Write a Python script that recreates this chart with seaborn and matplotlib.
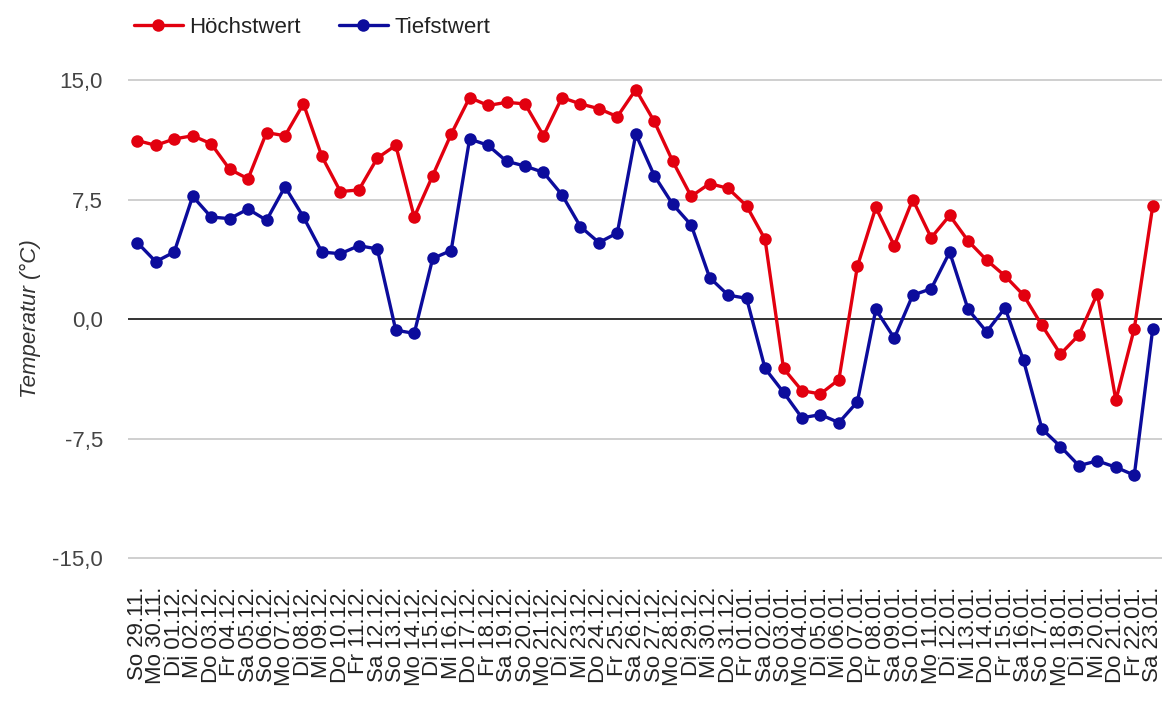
import pandas as pd
import matplotlib
matplotlib.use('Agg')
import matplotlib.pyplot as plt
import seaborn as sns

# Daily max / min temperatures (°C), 29.11. - 23.01.
labels = [
    'So 29.11.', 'Mo 30.11.',
    'Di 01.12.', 'Mi 02.12.', 'Do 03.12.', 'Fr 04.12.', 'Sa 05.12.', 'So 06.12.', 'Mo 07.12.',
    'Di 08.12.', 'Mi 09.12.', 'Do 10.12.', 'Fr 11.12.', 'Sa 12.12.', 'So 13.12.', 'Mo 14.12.',
    'Di 15.12.', 'Mi 16.12.', 'Do 17.12.', 'Fr 18.12.', 'Sa 19.12.', 'So 20.12.', 'Mo 21.12.',
    'Di 22.12.', 'Mi 23.12.', 'Do 24.12.', 'Fr 25.12.', 'Sa 26.12.', 'So 27.12.', 'Mo 28.12.',
    'Di 29.12.', 'Mi 30.12.', 'Do 31.12.',
    'Fr 01.01.', 'Sa 02.01.', 'So 03.01.', 'Mo 04.01.', 'Di 05.01.', 'Mi 06.01.', 'Do 07.01.',
    'Fr 08.01.', 'Sa 09.01.', 'So 10.01.', 'Mo 11.01.', 'Di 12.01.', 'Mi 13.01.', 'Do 14.01.',
    'Fr 15.01.', 'Sa 16.01.', 'So 17.01.', 'Mo 18.01.', 'Di 19.01.', 'Mi 20.01.', 'Do 21.01.',
    'Fr 22.01.', 'Sa 23.01.',
]

hoechstwert = [
    11.2, 10.9, 11.3, 11.5, 11.0, 9.4, 8.8, 11.7, 11.5, 13.5,
    10.2, 8.0, 8.1, 10.1, 10.9, 6.4, 9.0, 11.6, 13.9, 13.4,
    13.6, 13.5, 11.5, 13.9, 13.5, 13.2, 12.7, 14.4, 12.4, 9.9,
    7.7, 8.5, 8.2, 7.1, 5.0, -3.1, -4.5, -4.7, -3.8, 3.3,
    7.0, 4.6, 7.5, 5.1, 6.5, 4.9, 3.7, 2.7, 1.5, -0.4,
    -2.2, -1.0, 1.6, -5.1, -0.6, 7.1,
]

tiefstwert = [
    4.8, 3.6, 4.2, 7.7, 6.4, 6.3, 6.9, 6.2, 8.3, 6.4,
    4.2, 4.1, 4.6, 4.4, -0.7, -0.9, 3.8, 4.3, 11.3, 10.9,
    9.9, 9.6, 9.2, 7.8, 5.8, 4.8, 5.4, 11.6, 9.0, 7.2,
    5.9, 2.6, 1.5, 1.3, -3.1, -4.6, -6.2, -6.0, -6.5, -5.2,
    0.6, -1.2, 1.5, 1.9, 4.2, 0.6, -0.8, 0.7, -2.6, -6.9,
    -8.0, -9.2, -8.9, -9.3, -9.8, -0.6,
]

df = pd.DataFrame({'Tag': range(len(labels)),
                   'Höchstwert': hoechstwert,
                   'Tiefstwert': tiefstwert})
long_df = df.melt(id_vars='Tag', var_name='Serie', value_name='Temperatur')

sns.set_style('white')
plt.rcParams['font.family'] = ['Liberation Sans', 'DejaVu Sans']

fig = plt.figure(figsize=(11.62, 7.02), dpi=100)
ax = fig.add_axes([0.1102, 0.1937, 0.8898, 0.7037])

colors = {'Höchstwert': '#e2000f', 'Tiefstwert': '#0c0c9c'}
sns.lineplot(data=long_df, x='Tag', y='Temperatur', hue='Serie', palette=colors,
             marker='o', markersize=9, markeredgewidth=0, linewidth=2.4,
             sort=False, legend=False, ax=ax, zorder=3)

ax.set_xlim(-0.5, len(labels) - 0.5)
ax.set_ylim(-15.5, 15.5)
ax.set_yticks([-15, -7.5, 0, 7.5, 15])
ax.set_yticklabels(['-15,0', '-7,5', '0,0', '7,5', '15,0'], fontsize=16, color='#444444')
ax.set_xticks(range(len(labels)))
ax.set_xticklabels(labels, rotation=90, fontsize=16, color='#222222')
ax.tick_params(axis='both', length=0)
ax.tick_params(axis='x', pad=15)
ax.tick_params(axis='y', pad=18)

for v in [-15, -7.5, 7.5, 15]:
    ax.axhline(v, color='#cccccc', linewidth=1.3, zorder=1)
ax.axhline(0, color='#333333', linewidth=1.4, zorder=2)

for s in ax.spines.values():
    s.set_visible(False)

ax.set_xlabel('')
ax.set_ylabel('Temperatur (°C)', fontsize=16, style='italic', color='#333333', labelpad=8)

handles = [plt.Line2D([], [], color=colors[k], marker='o', markersize=9,
                      markeredgewidth=0, linewidth=2.4) for k in colors]
fig.legend(handles, list(colors.keys()), loc='center left', bbox_to_anchor=(0.098, 0.961),
           ncol=2, frameon=False, fontsize=16, handlelength=2.2, handletextpad=0.3,
           columnspacing=1.7, labelcolor='#222222')

fig.savefig('out.png', dpi=100)
